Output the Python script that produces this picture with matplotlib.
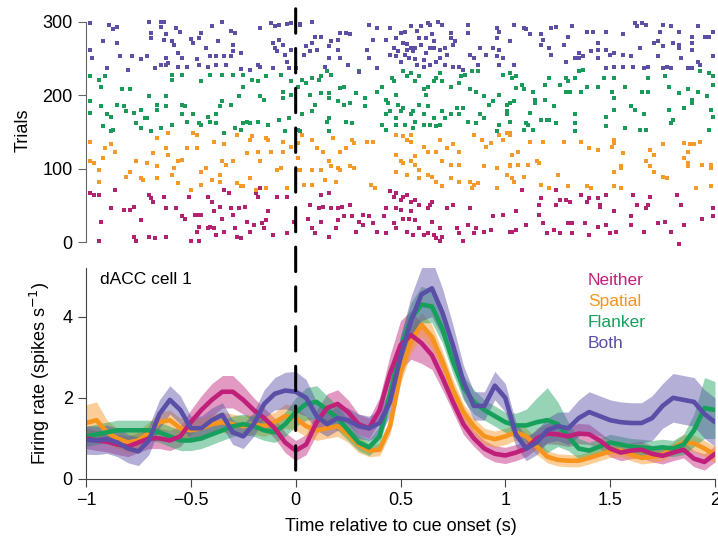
import numpy as np
import matplotlib
matplotlib.use('Agg')
import matplotlib.pyplot as plt
from matplotlib.patches import ConnectionPatch

plt.rcParams['font.family'] = ['Liberation Sans', 'DejaVu Sans']
plt.rcParams['font.size'] = 13

conditions = ['Neither', 'Spatial', 'Flanker', 'Both']
line_colors = ['#c0207a', '#f7941d', '#16a05c', '#5a4fa6']
dot_colors = ['#b3226f', '#f39a2b', '#1b9a5a', '#5b50a5']

# time axis of the smoothed firing rate (s)
t = np.linspace(-1, 2, 61)

# mean firing rate (spikes/s), read every 50 ms
neither_mean = [1.00, 0.95, 0.92, 0.85, 0.80, 0.90, 1.00, 1.00, 0.95, 1.05,
                1.40, 1.70, 1.95, 2.15, 2.15, 1.95, 1.70, 1.50, 1.25, 0.90,
                0.70, 0.85, 1.40, 1.75, 1.85, 1.65, 1.35, 1.25, 1.70, 2.60,
                3.30, 3.55, 3.35, 3.05, 2.50, 1.90, 1.35, 1.00, 0.75, 0.62,
                0.58, 0.65, 0.75, 1.00, 1.12, 1.10, 1.05, 1.12, 1.10, 0.95,
                0.75, 0.65, 0.70, 0.72, 0.62, 0.57, 0.65, 0.72, 0.50, 0.42,
                0.62]
spatial_mean = [1.38, 1.45, 1.15, 1.00, 0.90, 0.95, 1.15, 1.40, 1.45, 1.25,
                1.20, 1.25, 1.35, 1.40, 1.35, 1.30, 1.35, 1.30, 1.40, 1.55,
                1.50, 1.30, 1.20, 1.25, 1.30, 1.10, 0.85, 0.70, 0.72, 1.30,
                2.60, 3.40, 3.80, 3.50, 2.90, 2.20, 1.65, 1.30, 1.05, 0.98,
                1.05, 1.15, 1.05, 0.80, 0.55, 0.47, 0.45, 0.45, 0.52, 0.60,
                0.68, 0.70, 0.60, 0.52, 0.55, 0.60, 0.75, 0.90, 0.88, 0.75,
                0.60]
flanker_mean = [1.05, 1.10, 1.15, 1.20, 1.20, 1.20, 1.20, 1.15, 1.05, 0.95,
                0.95, 1.00, 1.10, 1.20, 1.30, 1.35, 1.30, 1.20, 1.15, 1.35,
                1.65, 1.85, 1.90, 1.70, 1.50, 1.20, 0.90, 0.78, 1.05, 2.10,
                3.20, 3.95, 4.30, 4.25, 3.70, 2.90, 2.25, 1.90, 1.70, 1.55,
                1.40, 1.32, 1.32, 1.40, 1.45, 1.35, 1.05, 0.75, 0.70, 0.80,
                0.90, 0.85, 0.80, 0.78, 0.75, 0.78, 0.75, 0.85, 1.20, 1.75,
                1.70]
both_mean = [0.96, 0.95, 0.98, 0.90, 0.75, 0.68, 0.95, 1.60, 1.95, 1.70,
             1.25, 1.25, 1.45, 1.58, 1.15, 1.05, 1.35, 1.85, 2.10, 2.18,
             2.15, 2.00, 1.55, 1.35, 1.50, 1.45, 1.30, 1.25, 1.38, 1.90,
             3.00, 3.90, 4.55, 4.70, 4.10, 3.30, 2.40, 1.80, 1.80, 2.30,
             2.00, 1.10, 0.75, 0.90, 1.20, 1.30, 1.25, 1.50, 1.65, 1.55,
             1.45, 1.40, 1.38, 1.38, 1.50, 1.80, 2.00, 1.95, 1.90, 1.60,
             1.40]

# half-width of the shaded error band
neither_err = [0.25, 0.25, 0.25, 0.25, 0.25, 0.25, 0.25, 0.25, 0.25, 0.25,
               0.30, 0.35, 0.40, 0.40, 0.40, 0.35, 0.30, 0.25, 0.25, 0.25,
               0.25, 0.25, 0.30, 0.35, 0.35, 0.30, 0.25, 0.25, 0.30, 0.45,
               0.60, 0.60, 0.50, 0.35, 0.30, 0.25, 0.25, 0.20, 0.20, 0.20,
               0.20, 0.20, 0.20, 0.25, 0.25, 0.25, 0.25, 0.25, 0.25, 0.20,
               0.20, 0.20, 0.20, 0.20, 0.20, 0.20, 0.20, 0.20, 0.20, 0.20,
               0.20]
spatial_err = [0.45, 0.45, 0.30, 0.25, 0.25, 0.25, 0.25, 0.25, 0.25, 0.25,
               0.25, 0.25, 0.25, 0.25, 0.25, 0.25, 0.25, 0.25, 0.25, 0.30,
               0.30, 0.25, 0.25, 0.25, 0.25, 0.20, 0.20, 0.15, 0.15, 0.20,
               0.25, 0.30, 0.30, 0.30, 0.25, 0.25, 0.20, 0.20, 0.20, 0.20,
               0.20, 0.20, 0.20, 0.20, 0.15, 0.15, 0.15, 0.15, 0.15, 0.15,
               0.15, 0.15, 0.15, 0.15, 0.15, 0.15, 0.15, 0.20, 0.20, 0.20,
               0.20]
flanker_err = [0.25, 0.25, 0.25, 0.25, 0.25, 0.25, 0.25, 0.25, 0.25, 0.25,
               0.25, 0.25, 0.25, 0.25, 0.25, 0.25, 0.25, 0.25, 0.25, 0.30,
               0.35, 0.40, 0.40, 0.35, 0.30, 0.25, 0.20, 0.20, 0.25, 0.30,
               0.35, 0.40, 0.45, 0.40, 0.35, 0.30, 0.30, 0.30, 0.25, 0.25,
               0.25, 0.30, 0.40, 0.60, 0.80, 0.55, 0.35, 0.25, 0.20, 0.20,
               0.20, 0.20, 0.20, 0.20, 0.20, 0.20, 0.20, 0.25, 0.40, 0.75,
               0.70]
both_err = [0.35, 0.35, 0.35, 0.35, 0.35, 0.35, 0.35, 0.35, 0.35, 0.35,
            0.30, 0.30, 0.30, 0.30, 0.30, 0.30, 0.30, 0.35, 0.40, 0.45,
            0.50, 0.45, 0.35, 0.30, 0.30, 0.30, 0.30, 0.30, 0.30, 0.35,
            0.50, 0.60, 0.65, 0.70, 0.60, 0.50, 0.40, 0.35, 0.35, 0.35,
            0.35, 0.30, 0.30, 0.30, 0.30, 0.35, 0.40, 0.45, 0.50, 0.50,
            0.50, 0.50, 0.50, 0.50, 0.55, 0.55, 0.60, 0.60, 0.60, 0.60,
            0.60]

# raster spikes: (time s, trial number)
neither_spikes = [
    (-0.98, 67), (-0.96, 64), (-0.94, 64), (-0.86, 71), (-0.88, 46), (-0.93, 28), (-0.94, 1),
    (-0.82, 44), (-0.79, 44), (-0.77, 48), (-0.74, 30), (-0.77, 7), (-0.76, 1), (-0.70, 7),
    (-0.70, 64), (-0.69, 60), (-0.68, 55), (-0.67, 5), (-0.62, 7), (-0.63, 62), (-0.62, 46),
    (-0.57, 46), (-0.54, 35), (-0.53, 32), (-0.51, 62), (-0.48, 37), (-0.46, 37), (-0.45, 37),
    (-0.47, 14), (-0.46, 21), (-0.42, 19), (-0.41, 21), (-0.42, 62), (-0.40, 55), (-0.39, 42),
    (-0.36, 48), (-0.35, 32), (-0.34, 71), (-0.32, 67), (-0.31, 46), (-0.30, 37), (-0.29, 19),
    (-0.27, 46), (-0.26, 5), (-0.24, 48), (-0.23, 28), (-0.22, 14), (-0.19, 67), (-0.18, 62),
    (-0.17, 73), (-0.15, 19), (-0.14, 30), (-0.13, 42), (-0.11, 10), (-0.09, 62), (-0.04, 62),
    (-0.04, 12), (-0.01, 28), (-0.50, 1), (-0.46, 1), (-0.39, 19), (-0.38, 10), (-0.34, 14),
    (-0.28, 7), (-0.20, 23), (-0.16, 26),
    (0.12, 64), (0.16, 67), (0.07, 51), (0.11, 46), (0.13, 48), (0.17, 46), (0.20, 46),
    (0.22, 48), (0.26, 51), (0.06, 32), (0.08, 19), (0.09, 12), (0.12, 28), (0.16, 7),
    (0.19, 19), (0.20, 30), (0.23, 35), (0.27, 35), (0.29, 14), (0.30, 28), (0.32, 37),
    (0.35, 35), (0.37, 26), (0.39, 14), (0.43, 12), (0.42, 35), (0.43, 46), (0.45, 69),
    (0.47, 62), (0.48, 67), (0.50, 57), (0.51, 62), (0.53, 64), (0.55, 55), (0.57, 57),
    (0.59, 51), (0.63, 46), (0.64, 51), (0.65, 55), (0.48, 46), (0.50, 44), (0.51, 32),
    (0.54, 32), (0.55, 42), (0.57, 30), (0.59, 19), (0.61, 10), (0.63, 12), (0.66, 10),
    (0.67, 5), (0.69, 1), (0.70, 7), (0.47, 26), (0.48, 19), (0.53, 14), (0.56, 10),
    (0.65, 28), (0.69, 19), (0.72, 46), (0.75, 51), (0.77, 19), (0.78, 12), (0.80, 1),
    (0.83, 46), (0.82, 23), (0.85, 12), (0.86, 19), (0.90, 14), (0.93, 16), (0.94, 35),
    (0.99, 37), (1.02, 14), (0.32, 23),
    (1.08, 71), (1.17, 60), (1.16, 51), (1.05, 42), (1.16, 37), (1.10, 23), (1.03, 14),
    (1.05, 16), (1.20, 12), (1.23, 16), (1.26, 12), (1.18, 26), (1.24, 51), (1.26, 57),
    (1.29, 57), (1.31, 55), (1.24, 71), (1.30, 26), (1.32, 12), (1.36, 64), (1.39, 55),
    (1.40, 60), (1.38, 26), (1.40, 10), (1.44, 60), (1.45, 51), (1.45, 48), (1.44, 21),
    (1.48, 64), (1.48, 23), (1.50, 12), (1.52, 42), (1.53, 14), (1.61, 64), (1.63, 51),
    (1.60, 35), (1.60, 23), (1.66, 14), (1.69, 62), (1.68, 51), (1.67, 46), (1.73, 26),
    (1.76, 28), (1.79, 14), (1.82, 64), (1.84, 51), (1.85, 23), (1.83, -2), (1.94, 32),
    (1.99, 46), (1.99, 35), (1.32, 26),
]
spatial_spikes = [
    (-0.98, 137), (-0.98, 110), (-0.96, 108), (-0.94, 98), (-0.91, 128), (-0.88, 133),
    (-0.86, 123), (-0.92, 114), (-0.94, 82), (-0.81, 89), (-0.79, 96), (-0.76, 110),
    (-0.74, 87), (-0.73, 85), (-0.71, 108), (-0.68, 121), (-0.66, 142), (-0.66, 103),
    (-0.62, 128), (-0.61, 119), (-0.61, 148), (-0.58, 101), (-0.56, 110), (-0.54, 112),
    (-0.52, 128), (-0.49, 148), (-0.47, 146), (-0.47, 128), (-0.45, 96), (-0.43, 101),
    (-0.39, 137), (-0.40, 85), (-0.36, 82), (-0.35, 110), (-0.34, 133), (-0.33, 105),
    (-0.30, 110), (-0.28, 146), (-0.26, 76), (-0.25, 76), (-0.22, 139), (-0.21, 144),
    (-0.22, 87), (-0.23, 121), (-0.18, 123), (-0.17, 110), (-0.14, 142), (-0.13, 139),
    (-0.12, 123), (-0.09, 98), (-0.07, 101), (-0.06, 123), (-0.06, 137), (-0.04, 73),
    (-0.02, 130), (0.01, 98), (-0.66, 87), (-0.59, 92), (-0.56, 80), (-0.50, 71),
    (-0.45, 78), (-0.36, 92), (-0.28, 80), (-0.19, 71), (-0.14, 73),
    (0.03, 146), (0.01, 135), (0.08, 139), (0.10, 128), (0.13, 123), (0.18, 142),
    (0.21, 123), (0.24, 128), (0.27, 139), (0.28, 135), (0.34, 137), (0.37, 137),
    (0.01, 114), (0.02, 98), (0.08, 98), (0.12, 98), (0.16, 110), (0.17, 103),
    (0.20, 101), (0.21, 98), (0.26, 103), (0.28, 101), (0.04, 78), (0.08, 78),
    (0.14, 85), (0.19, 82), (0.36, 78), (0.38, 73), (0.48, 146), (0.51, 144),
    (0.53, 139), (0.55, 137), (0.55, 146), (0.48, 119), (0.50, 110), (0.51, 108),
    (0.55, 110), (0.57, 117), (0.57, 105), (0.59, 98), (0.61, 130), (0.63, 123),
    (0.67, 123), (0.69, 139), (0.72, 128), (0.75, 133), (0.78, 123), (0.70, 110),
    (0.74, 105), (0.78, 105), (0.59, 87), (0.63, 92), (0.65, 89), (0.67, 82),
    (0.70, 76), (0.74, 87), (0.78, 82), (0.83, 82), (0.85, 78), (0.84, 73),
    (0.87, 80), (0.96, 73), (0.85, 146), (0.89, 139), (0.91, 130), (0.93, 135),
    (0.97, 146), (0.99, 139), (1.01, 148), (0.90, 103), (0.96, 101), (1.01, 92),
    (1.02, 103), (0.48, 96), (0.53, 92),
    (1.02, 148), (1.02, 146), (1.06, 123), (1.03, 119), (1.02, 105), (1.06, 105),
    (1.11, 105), (1.15, 110), (1.16, 108), (1.03, 87), (1.04, 82), (1.09, 89),
    (1.12, 137), (1.18, 137), (1.28, 137), (1.36, 137), (1.40, 128), (1.44, 126),
    (1.52, 139), (1.52, 135), (1.51, 130), (1.56, 121), (1.55, 103), (1.55, 101),
    (1.52, 96), (1.25, 92), (1.17, 78), (1.21, 73), (1.30, 76), (1.39, 76),
    (1.41, 73), (1.52, 76), (1.55, 73), (1.69, 126), (1.71, 119), (1.67, 110),
    (1.69, 103), (1.71, 96), (1.75, 89), (1.77, 87), (1.75, 133), (1.85, 135),
    (1.88, 133), (1.90, 133), (1.93, 137), (1.87, 123), (1.85, 114), (1.87, 108),
    (1.87, 103), (1.94, 105), (1.98, 105), (1.98, 101), (1.91, 73), (1.98, 76),
]
flanker_spikes = [
    (-0.98, 226), (-0.94, 221), (-0.91, 226), (-0.93, 212), (-0.98, 192), (-0.98, 176),
    (-0.83, 208), (-0.79, 208), (-0.70, 199), (-0.62, 199), (-0.59, 228), (-0.59, 221),
    (-0.54, 228), (-0.45, 219), (-0.41, 228), (-0.35, 228), (-0.30, 228), (-0.25, 228),
    (-0.21, 221), (-0.18, 219), (-0.14, 226), (-0.07, 228), (-0.02, 219), (-0.93, 185),
    (-0.90, 174), (-0.88, 171), (-0.85, 187), (-0.82, 185), (-0.81, 178), (-0.77, 176),
    (-0.74, 180), (-0.71, 169), (-0.66, 187), (-0.66, 180), (-0.62, 185), (-0.54, 187),
    (-0.53, 185), (-0.54, 174), (-0.49, 174), (-0.45, 160), (-0.41, 164), (-0.42, 171),
    (-0.38, 174), (-0.36, 185), (-0.35, 192), (-0.31, 187), (-0.27, 199), (-0.25, 212),
    (-0.17, 199), (-0.15, 194), (-0.06, 205), (-0.02, 201), (-0.06, 196), (0.01, 212),
    (-0.92, 158), (-0.88, 151), (-0.87, 153), (-0.76, 162), (-0.74, 155), (-0.72, 169),
    (-0.69, 151), (-0.64, 155), (-0.59, 160), (-0.52, 164), (-0.46, 162), (-0.38, 162),
    (-0.34, 148), (-0.29, 155), (-0.26, 153), (-0.25, 162), (-0.23, 164), (-0.22, 162),
    (-0.18, 164), (-0.13, 160), (-0.08, 167), (-0.05, 151), (-0.03, 169), (0.01, 153),
    (0.02, 151),
    (0.03, 221), (0.05, 217), (0.08, 224), (0.11, 221), (0.12, 226), (0.15, 233),
    (0.17, 228), (0.07, 201), (0.09, 187), (0.12, 203), (0.16, 203), (0.16, 196),
    (0.20, 192), (0.23, 187), (0.26, 189), (0.21, 210), (0.23, 212), (0.30, 233),
    (0.29, 203), (0.33, 196), (0.33, 185), (0.03, 174), (0.08, 178), (0.15, 164),
    (0.16, 169), (0.16, 151), (0.24, 164), (0.27, 162), (0.39, 205), (0.41, 212),
    (0.43, 194), (0.44, 189), (0.47, 219), (0.48, 201), (0.49, 187), (0.50, 178),
    (0.46, 224), (0.51, 233), (0.53, 226), (0.55, 230), (0.57, 219), (0.59, 226),
    (0.61, 208), (0.62, 201), (0.63, 212), (0.66, 219), (0.67, 224), (0.69, 230),
    (0.70, 219), (0.74, 212), (0.78, 217), (0.79, 226), (0.81, 228), (0.43, 174),
    (0.45, 178), (0.48, 169), (0.51, 183), (0.52, 160), (0.55, 174), (0.56, 178),
    (0.57, 164), (0.59, 187), (0.61, 174), (0.63, 185), (0.64, 160), (0.66, 169),
    (0.67, 158), (0.69, 160), (0.70, 178), (0.71, 169), (0.74, 174), (0.77, 183),
    (0.78, 174), (0.80, 183), (0.41, 160), (0.43, 153), (0.48, 160), (0.56, 155),
    (0.61, 160), (0.83, 208), (0.86, 205), (0.90, 199), (0.92, 187), (0.94, 192),
    (0.97, 201), (1.01, 187), (0.99, 228), (1.02, 230), (0.88, 174), (0.90, 169),
    (1.01, 174), (1.02, 164), (0.82, 164), (0.86, 162), (0.96, 151), (0.97, 160),
    (0.87, 233), (0.84, 233),
    (1.02, 230), (1.03, 224), (1.05, 226), (1.05, 210), (1.08, 214), (1.09, 208),
    (1.13, 205), (1.02, 189), (1.01, 178), (1.04, 192), (1.19, 214), (1.21, 224),
    (1.26, 214), (1.29, 224), (1.30, 219), (1.29, 205), (1.31, 205), (1.33, 224),
    (1.35, 233), (1.37, 235), (1.36, 205), (1.39, 212), (1.44, 212), (1.47, 224),
    (1.52, 224), (1.51, 205), (1.52, 196), (1.57, 212), (1.65, 205), (1.68, 205),
    (1.68, 224), (1.76, 226), (1.78, 212), (1.83, 203), (1.87, 208), (1.92, 205),
    (1.96, 199), (1.93, 233), (1.97, 230), (1.99, 226), (1.99, 214), (1.23, 185),
    (1.14, 194), (1.14, 189), (1.19, 194), (1.12, 176), (1.10, 162), (1.11, 160),
    (1.09, 153), (1.13, 153), (1.17, 167), (1.20, 167), (1.21, 167), (1.24, 162),
    (1.33, 174), (1.33, 162), (1.33, 151), (1.48, 171), (1.48, 158), (1.52, 180),
    (1.60, 185), (1.62, 180), (1.66, 174), (1.57, 155), (1.64, 153), (1.67, 153),
    (1.78, 180), (1.80, 167), (1.79, 162), (1.85, 183), (1.89, 194), (1.89, 189),
    (1.98, 180), (1.99, 171), (1.97, 153),
]
both_spikes = [
    (-0.98, 299), (-0.89, 296), (-0.87, 290), (-0.85, 293), (-0.70, 300), (-0.64, 300),
    (-0.63, 300), (-0.69, 285), (-0.62, 283), (-0.57, 292), (-0.55, 287), (-0.64, 293),
    (-0.45, 285), (-0.46, 278), (-0.40, 294), (-0.35, 300), (-0.31, 288), (-0.29, 285),
    (-0.17, 292), (-0.12, 299), (-0.10, 294), (-0.08, 296), (-0.04, 297), (-0.02, 299),
    (0.02, 296), (-0.98, 262), (-0.92, 274), (-0.85, 271), (-0.69, 278), (-0.63, 276),
    (-0.58, 269), (-0.59, 274), (-0.50, 277), (-0.49, 271), (-0.43, 264), (-0.37, 274),
    (-0.30, 269), (-0.30, 260), (-0.26, 258), (-0.11, 271), (-0.10, 264), (-0.09, 260),
    (-0.08, 276), (-0.06, 269), (-0.05, 255), (-0.04, 246), (-0.02, 262), (-0.97, 251),
    (-0.84, 254), (-0.78, 253), (-0.74, 249), (-0.71, 253), (-0.62, 251), (-0.61, 244),
    (-0.56, 258), (-0.54, 251), (-0.52, 239), (-0.47, 249), (-0.41, 253), (-0.38, 253),
    (-0.34, 253), (-0.31, 253), (-0.90, 237), (-0.80, 235), (-0.67, 237), (-0.64, 242),
    (-0.62, 242), (-0.56, 239), (-0.52, 238), (-0.46, 242), (-0.42, 239), (-0.38, 241),
    (-0.33, 242), (-0.26, 236), (-0.22, 235), (-0.18, 242), (-0.17, 239), (-0.11, 237),
    (-0.03, 237), (0.00, 237),
    (0.02, 297), (0.08, 300), (0.12, 280), (0.09, 280), (0.08, 271), (0.05, 267),
    (0.04, 255), (0.07, 260), (0.10, 262), (0.16, 267), (0.17, 274), (0.20, 276),
    (0.21, 285), (0.24, 285), (0.26, 283), (0.20, 262), (0.16, 251), (0.21, 251),
    (0.25, 242), (0.30, 232), (0.35, 296), (0.39, 292), (0.45, 292), (0.48, 278),
    (0.50, 285), (0.52, 287), (0.55, 294), (0.60, 294), (0.63, 299), (0.64, 296),
    (0.68, 300), (0.70, 296), (0.74, 285), (0.74, 278), (0.75, 269), (0.76, 274),
    (0.71, 264), (0.72, 255), (0.69, 251), (0.66, 264), (0.64, 264), (0.62, 278),
    (0.59, 278), (0.57, 264), (0.55, 264), (0.51, 271), (0.49, 260), (0.48, 253),
    (0.50, 246), (0.52, 255), (0.54, 251), (0.56, 260), (0.58, 242), (0.61, 239),
    (0.64, 242), (0.67, 246), (0.71, 242), (0.75, 239), (0.78, 239), (0.80, 235),
    (0.82, 296), (0.82, 285), (0.88, 264), (0.83, 255), (0.85, 251), (0.87, 242),
    (0.91, 255), (0.94, 264), (0.96, 253), (0.97, 262), (0.99, 251), (0.96, 292),
    (0.97, 287), (0.96, 278), (0.97, 242), (0.34, 262), (0.35, 251), (0.39, 237),
    (0.45, 255), (0.47, 264), (0.37, 276), (0.43, 276), (0.14, 239), (0.53, 270),
    (0.58, 288), (0.60, 268), (0.62, 258), (0.65, 283), (0.57, 250), (0.66, 274),
    (0.69, 262), (0.53, 262), (0.61, 248),
    (1.02, 274), (1.04, 242), (1.09, 292), (1.10, 290), (1.12, 283), (1.17, 283),
    (1.17, 269), (1.18, 276), (1.21, 264), (1.22, 255), (1.22, 292), (1.24, 293),
    (1.28, 269), (1.30, 280), (1.32, 294), (1.29, 246), (1.33, 251), (1.35, 251),
    (1.37, 253), (1.35, 258), (1.39, 287), (1.42, 287), (1.41, 260), (1.44, 262),
    (1.44, 271), (1.44, 251), (1.48, 287), (1.48, 262), (1.50, 255), (1.48, 237),
    (1.52, 258), (1.52, 239), (1.56, 255), (1.56, 239), (1.56, 283), (1.60, 253),
    (1.61, 239), (1.62, 299), (1.63, 294), (1.65, 299), (1.67, 296), (1.64, 264),
    (1.66, 237), (1.68, 239), (1.71, 271), (1.73, 274), (1.75, 267), (1.73, 253),
    (1.74, 287), (1.75, 296), (1.79, 294), (1.80, 271), (1.83, 269), (1.83, 264),
    (1.84, 251), (1.79, 237), (1.77, 239), (1.75, 237), (1.83, 287), (1.89, 280),
    (1.89, 271), (1.89, 262), (1.92, 294), (1.95, 280), (1.97, 280), (1.92, 246),
    (1.93, 242), (1.89, 237), (1.99, 253), (1.99, 287), (1.87, 237), (1.04, 296),
]

means = [neither_mean, spatial_mean, flanker_mean, both_mean]
errs = [neither_err, spatial_err, flanker_err, both_err]
spikes = [neither_spikes, spatial_spikes, flanker_spikes, both_spikes]

fig = plt.figure(figsize=(7.18, 5.43), dpi=100)
ax1 = fig.add_axes([0.1198, 0.5475, 0.876, 0.4255])
ax2 = fig.add_axes([0.1198, 0.1179, 0.876, 0.3885])

# raster
for sp, c in zip(spikes, dot_colors):
    sp = np.array(sp)
    ax1.scatter(sp[:, 0], sp[:, 1], s=5, marker='s', color=c, linewidths=0)
ax1.set_xlim(-1, 2)
ax1.set_ylim(-5, 310)
ax1.set_yticks([0, 100, 200, 300])
ax1.set_xticks([])
for s in ['top', 'right', 'bottom']:
    ax1.spines[s].set_visible(False)
ax1.spines['left'].set_bounds(0, 300)
ax1.spines['left'].set_color('#666666')
ax1.tick_params(axis='y', direction='out', length=6, color='#666666', labelsize=13)
ax1.set_ylabel('Trials', fontsize=13, labelpad=8)

# firing rates
for m, e, c in zip(means, errs, line_colors):
    m = np.array(m)
    e = np.array(e)
    ax2.fill_between(t, m - e, m + e, color=c, alpha=0.45, linewidth=0)
for i in [1, 2, 0, 3]:
    ax2.plot(t, means[i], color=line_colors[i], linewidth=3.3,
             solid_capstyle='round', solid_joinstyle='round')
ax2.set_xlim(-1, 2)
ax2.set_ylim(0, 5.2)
ax2.set_yticks([0, 2, 4])
ax2.set_xticks([-1, -0.5, 0, 0.5, 1, 1.5, 2])
ax2.set_xticklabels(['\u22121', '\u22120.5', '0', '0.5', '1', '1.5', '2'])
for s in ['top', 'right']:
    ax2.spines[s].set_visible(False)
for s in ['left', 'bottom']:
    ax2.spines[s].set_color('#444444')
ax2.tick_params(direction='out', length=6, color='#444444', labelsize=13)
ax2.set_ylabel('Firing rate (spikes s$^{-1}$)', fontsize=13, labelpad=8)
ax2.set_xlabel('Time relative to cue onset (s)', fontsize=13, labelpad=6)

ax2.text(0.022, 0.945, 'dACC cell 1', transform=ax2.transAxes, fontsize=12.5,
         va='center', ha='left')
ys = [0.943, 0.843, 0.743, 0.643]
for name, c, y in zip(conditions, line_colors, ys):
    ax2.text(0.798, y, name, transform=ax2.transAxes, color=c, fontsize=12.5,
             va='center', ha='left')

# dashed cue-onset line across both panels
con = ConnectionPatch(xyA=(0, 318), coordsA=ax1.transData,
                      xyB=(0, 0), coordsB=ax2.transData,
                      color='black', linewidth=2.2, linestyle=(0, (8, 5)))
fig.add_artist(con)

fig.savefig('out.png', dpi=100)
